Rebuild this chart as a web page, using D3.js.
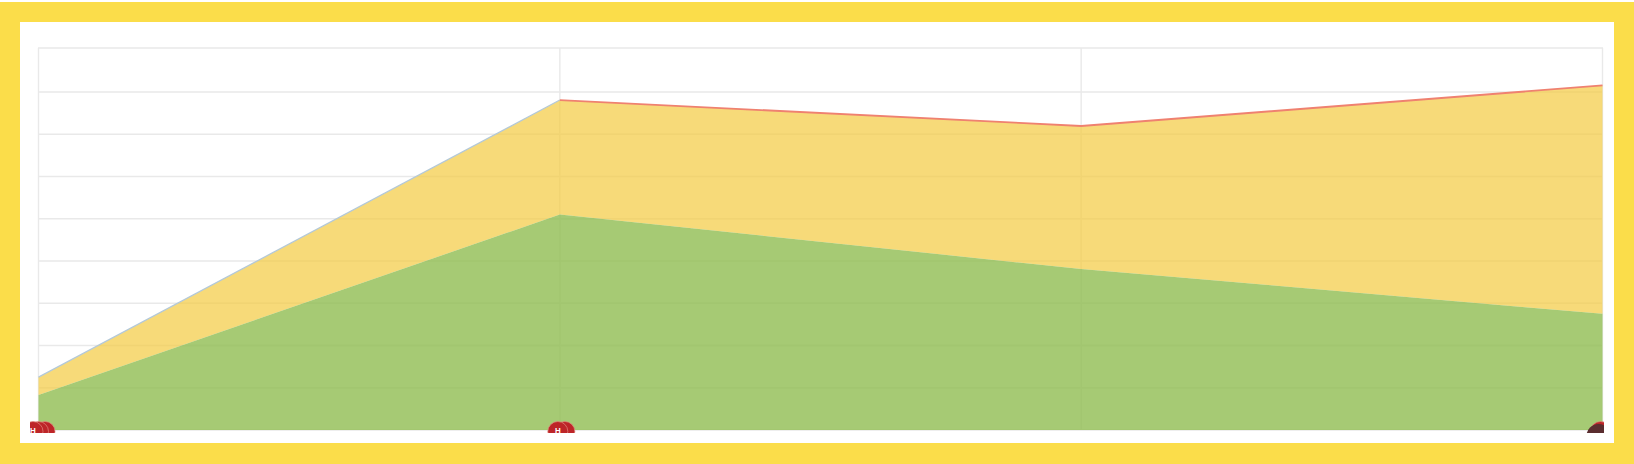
<!DOCTYPE html>
<html><head><meta charset="utf-8">
<script src="https://cdnjs.cloudflare.com/ajax/libs/d3/7.8.5/d3.min.js"></script>
<style>html,body{margin:0;padding:0;background:#fff;overflow:hidden}svg{display:block}</style>
</head><body><svg id="c" width="1634" height="464"></svg>
<script>
const categories = ["A","B","C","D"];
const greenValues = [8.3, 51.0, 38.1, 27.5];
const totalValues = [12.5, 78.1, 71.95, 81.55];
const valueTicks = [0,10,20,30,40,50,60,70,80];
const markerCategories = ["A","A","A","B","B","D","D"];
const markerOffsets = [6.5,0,-5.5,5,-2,-2,-4];
const markerColors = ["#bd2528","#bd2528","#bd2528","#bd2528","#bd2528","#bd2528","#5a2d2f"];
const markerLabels = ["","","H","","H","",""];

const svg = d3.select("#c");
const defs = svg.append("defs");
defs.append("filter").attr("id","soft").attr("x","-2%").attr("y","-2%").attr("width","104%").attr("height","104%")
  .append("feGaussianBlur").attr("stdDeviation",0.45);
defs.append("clipPath").attr("id","mk").append("rect").attr("x",30).attr("y",415).attr("width",1574).attr("height",18);

svg.append("rect").attr("x",0).attr("y",2).attr("width",1634).attr("height",462).attr("fill","#fbdd4a");
svg.append("rect").attr("x",20).attr("y",22).attr("width",1594).attr("height",421).attr("fill","#fff");

const x = d3.scalePoint().domain(categories).range([38.5,1602.5]);
const y = d3.scaleLinear().domain([0,80]).range([430,92]);
const plotTop = 48;
const gridColor = "#e9e9e9";
const g = svg.append("g").attr("filter","url(#soft)");
[...valueTicks.map(t=>y(t)), plotTop].forEach(p=>g.append("line").attr("x1",38).attr("x2",1603).attr("y1",p).attr("y2",p).attr("stroke",gridColor).attr("stroke-width",1.4));
categories.forEach(c=>g.append("line").attr("x1",x(c)).attr("x2",x(c)).attr("y1",plotTop).attr("y2",y(0)).attr("stroke",gridColor).attr("stroke-width",1.4));

const idx = categories.map((_,i)=>i);
g.append("path").attr("d",d3.area().x(i=>x(categories[i])).y0(i=>y(greenValues[i])).y1(i=>y(totalValues[i]))(idx)).attr("fill","#f4cc45").attr("fill-opacity",0.72);
g.append("path").attr("d",d3.area().x(i=>x(categories[i])).y0(y(0)).y1(i=>y(greenValues[i]))(idx)).attr("fill","#90bd51").attr("fill-opacity",0.8);
const line = d3.line().x(i=>x(categories[i])).y(i=>y(totalValues[i]));
g.append("path").attr("d",line(idx.slice(0,2))).attr("fill","none").attr("stroke","#b4c9d8").attr("stroke-width",1.3);
g.append("path").attr("d",line(idx.slice(1))).attr("fill","none").attr("stroke","#ef8170").attr("stroke-width",1.8);

const marks = svg.append("g").attr("clip-path","url(#mk)");
markerCategories.forEach((c,i)=>{
  const cx = x(c)+markerOffsets[i];
  const dark = markerColors[i] === "#5a2d2f";
  marks.append("circle").attr("cx",cx).attr("cy",dark?436:431.5).attr("r",dark?12:10).attr("fill",markerColors[i]).attr("stroke","#e08a80").attr("stroke-width",dark?0:0.7);
  if(markerLabels[i]) marks.append("text").attr("x",cx).attr("y",433).attr("text-anchor","middle").attr("font-family","Liberation Sans").attr("font-size",8).attr("font-weight",700).attr("fill","#fff").text(markerLabels[i]);
});
</script></body></html>
